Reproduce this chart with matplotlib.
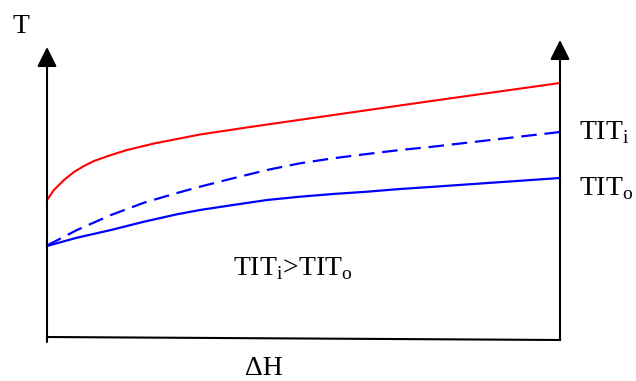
import matplotlib.pyplot as plt

plt.rcParams['font.family'] = 'Liberation Serif'
plt.rcParams['mathtext.fontset'] = 'custom'
plt.rcParams['mathtext.rm'] = 'Liberation Serif'

# dH as fraction of the axis, T in arbitrary units
dh = [0, 0.0585, 0.1248, 0.1891, 0.2534, 0.2982, 0.3626, 0.4288, 0.4932,
      0.5575, 0.6238, 0.6881, 0.7466, 1.0]
t_tit_i = [92.5, 108, 123, 135.3, 145, 151.3, 159.7, 168, 174.7, 179.7, 184, 188, 191, 206]
t_tit_o = [92, 100.3, 108, 116.3, 123.7, 128, 133, 138, 141.3, 144, 146.3, 149, 151, 160]

dh_red = [0, 0.0136, 0.0331, 0.0526, 0.0721, 0.0916, 0.1248, 0.1559, 0.2086,
          0.2982, 0.3957, 0.4932, 0.6238, 0.7466, 1.0]
t_red = [138, 148, 158, 166, 172, 177, 183, 188, 194.5, 203.5, 211, 218.2, 227.8, 236.8, 255]

fig = plt.figure(figsize=(6.36, 3.81), dpi=100)
ax = fig.add_axes([0, 0, 1, 1])
ax.set_xlim(-47 / 513, 589 / 513)
ax.set_ylim(-43, 338)
ax.axis('off')

# axes with arrows
arrow = dict(arrowstyle='-|>,head_length=0.6,head_width=0.3', color='black',
             lw=1.5, mutation_scale=20, shrinkA=0, shrinkB=0)
ax.annotate("", xy=(0, 291), xytext=(0, -4), arrowprops=arrow)
ax.annotate("", xy=(1, 298), xytext=(1, -2), arrowprops=arrow)
ax.plot([0, 1], [1, -2], color='black', lw=1.5)

ax.plot(dh_red, t_red, color='red', lw=1.5)
ax.plot(dh, t_tit_i, color='blue', lw=1.6, dashes=(7, 3.5))
ax.plot(dh, t_tit_o, color='blue', lw=1.6)

ax.text(-0.0517, 305, "T", fontsize=20, ha='center', va='baseline')
ax.text(1.037, 199, r"TIT$_\mathrm{i}$", fontsize=20, ha='left', va='baseline')
ax.text(1.037, 143, r"TIT$_\mathrm{o}$", fontsize=20, ha='left', va='baseline')
ax.text(0.3626, 63, r"TIT$_\mathrm{i}$>TIT$_\mathrm{o}$", fontsize=20, ha='left', va='baseline')
ax.text(0.386, -37, "ΔH", fontsize=20, ha='left', va='baseline')

fig.savefig("out.png")
